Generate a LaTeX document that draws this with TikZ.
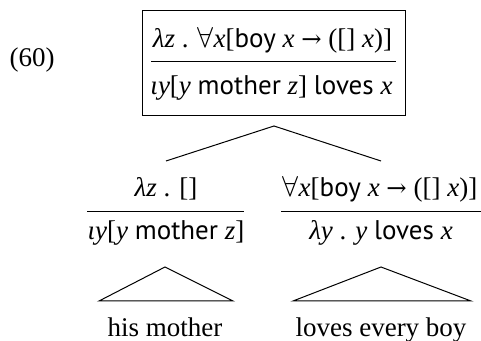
\documentclass[tikz,border=0pt]{standalone}
\usepackage{fontspec}
\setmainfont{Liberation Serif}
\newfontfamily\sffont{PT Sans}
\newfontfamily\symfont{DejaVu Serif}[Scale=0.9]
\newcommand{\sv}[1]{{\sffont #1}}
\newcommand{\iv}[1]{\textit{#1}}
\newcommand{\arr}{{\symfont →}}
\begin{document}
\begin{tikzpicture}[x=0.5pt,y=-0.5pt,
  lbl/.style={anchor=base,inner sep=0pt,font=\fontsize{13.5}{16}\selectfont},
  ln/.style={line width=0.5pt}]
\useasboundingbox (0,0) rectangle (481,341);
% example number
\node[lbl] (num) at (32,67) {(60)};
% top box
\node[draw,ln,minimum width=131.5pt,minimum height=52.5pt,inner sep=0pt] (box) at (273.5,63.5) {};
\node[lbl] (t1) at (272.5,48) {\iv{λz} . $\forall$\iv{x}[\sv{boy} \iv{x} \arr{} ([] \iv{x})]};
\node[lbl] (t2) at (271.5,95) {\iv{ιy}[\iv{y} \sv{mother} \iv{z}] \sv{loves} \iv{x}};
\coordinate (tl) at (151,62);
\coordinate (tr) at (396,62);
\draw[ln] (tl) -- (tr);
% branches
\coordinate (apex) at (274,126);
\coordinate (bl) at (166,161);
\coordinate (br) at (381,161);
\draw[ln] (bl) -- (apex) -- (br);
% left daughter
\node[lbl] (l1) at (166,197) {\iv{λz} . []};
\coordinate (ll1) at (87,212);
\coordinate (ll2) at (244,212);
\draw[ln] (ll1) -- (ll2);
\node[lbl] (l2) at (166,240) {\iv{ιy}[\iv{y} \sv{mother} \iv{z}]};
% right daughter
\node[lbl] (r1) at (380,197) {$\forall$\iv{x}[\sv{boy} \iv{x} \arr{} ([] \iv{x})]};
\coordinate (rl1) at (281,212);
\coordinate (rl2) at (481,212);
\draw[ln] (rl1) -- (rl2);
\node[lbl] (r2) at (381,240) {\iv{λy} . \iv{y} \sv{loves} \iv{x}};
% triangles
\coordinate (la) at (165,267);
\coordinate (lb1) at (99,301);
\coordinate (lb2) at (233,301);
\draw[ln] (lb1) -- (la) -- (lb2) -- cycle;
\coordinate (ra) at (381,267);
\coordinate (rb1) at (293,301);
\coordinate (rb2) at (471,301);
\draw[ln] (rb1) -- (ra) -- (rb2) -- cycle;
% leaves
\node[lbl] (w1) at (165,336) {his mother};
\node[lbl] (w2) at (381,336) {loves every boy};
\end{tikzpicture}
\end{document}
